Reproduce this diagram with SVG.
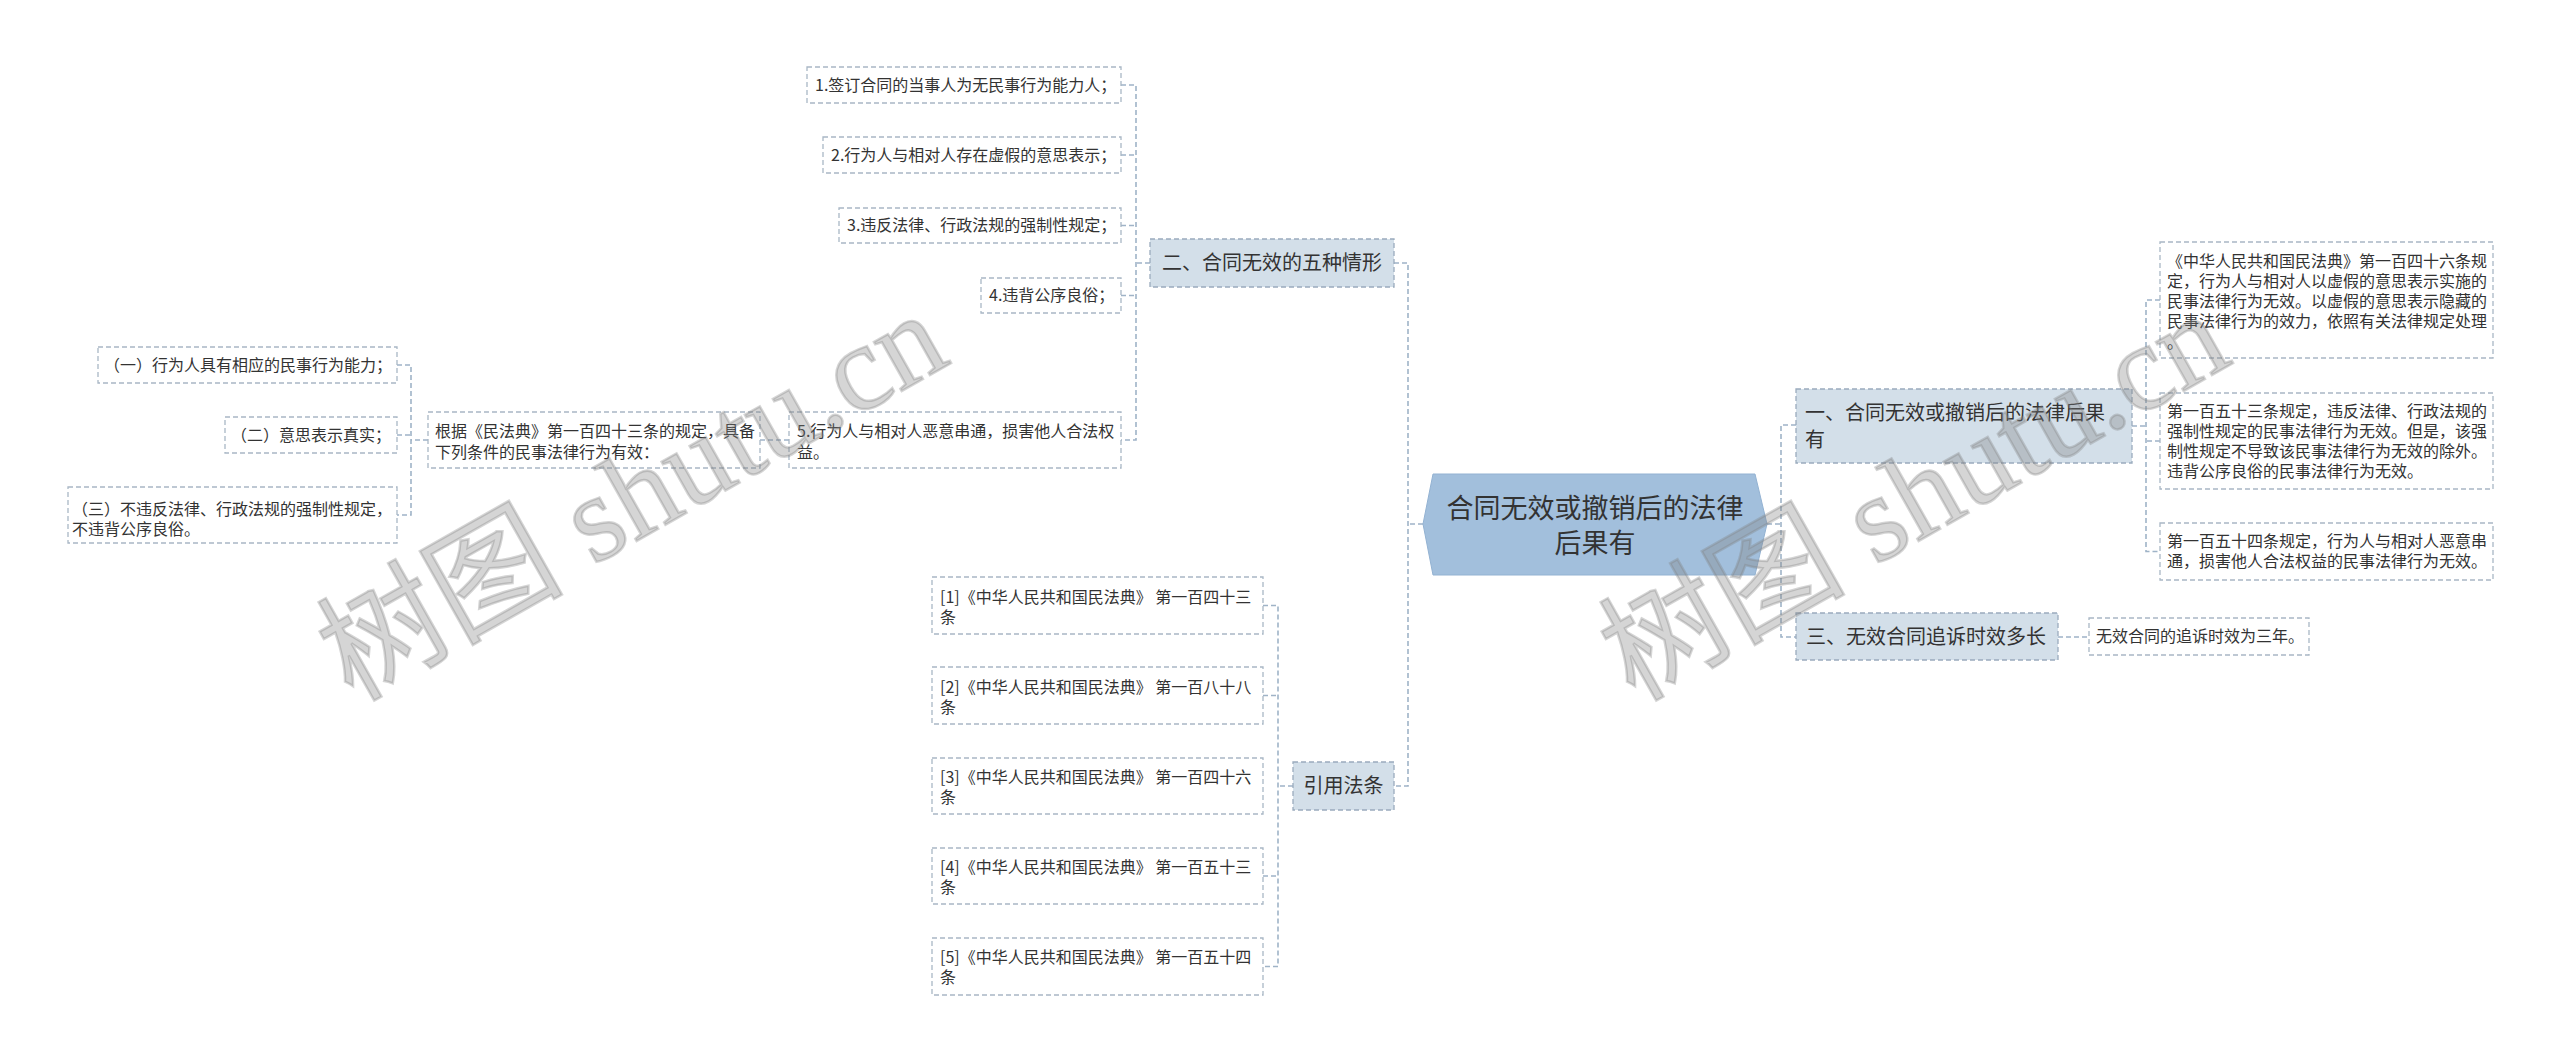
<svg xmlns="http://www.w3.org/2000/svg" width="2560" height="1063" viewBox="0 0 2560 1063">
<style>
text{font-family:"Noto Sans CJK SC","Noto Sans",sans-serif;fill:#333}
.s{font-size:16px}
.m{font-size:20px}
.leaf{fill:#fff;stroke:#a9b7c5;stroke-width:1.3;stroke-dasharray:5 3}
.l1{fill:#d3dfe9;stroke:#9aabbd;stroke-width:1.3;stroke-dasharray:5 3}
.conn path{fill:none;stroke:#9fb3c7;stroke-width:1.6;stroke-dasharray:5 3}
.wm{font-family:"Liberation Serif","Noto Sans CJK SC",serif;font-size:123px;fill:#808080;fill-opacity:0.33;stroke:#808080;stroke-opacity:0.33;stroke-width:2.5;paint-order:stroke}
</style>
<rect width="2560" height="1063" fill="#fff"/>
<g class="conn">
<path d="M1423,524H1408M1394,263H1408V786H1394"/>
<path d="M1767,524H1781M1796,425H1781V637H1796"/>
<path d="M1150,263H1136M1121,85H1136V440H1121M1121,155H1136M1121,225.5H1136M1121,295.5H1136"/>
<path d="M789,440H760"/>
<path d="M428,440H411M397,365H411V515H397M397,435H411"/>
<path d="M1293,786H1278M1263,605.5H1278V966.5H1263M1263,695.5H1278M1263,876H1278"/>
<path d="M2132,426H2146M2160,300H2146V551.5H2160M2160,441H2146"/>
<path d="M2058,637H2089"/>
</g>
<g id="root">
<polygon points="1423,524 1433,474 1755,474 1767,524 1755,575 1433,575" fill="#a2bfdc" stroke="#93b2d2" stroke-width="1"/>
<text x="1595" y="517.5" font-size="27" text-anchor="middle">合同无效或撤销后的法律</text>
<text x="1595" y="552.5" font-size="27" text-anchor="middle">后果有</text>
</g>
<g id="n2">
<rect class="l1" x="1150" y="239" width="244" height="48"/>
<text class="m" x="1272" y="270" text-anchor="middle">二、合同无效的五种情形</text>
</g>
<g id="n2-1">
<rect class="leaf" x="807" y="67" width="314" height="36"/>
<text class="s" x="815" y="91">1.签订合同的当事人为无民事行为能力人；</text>
</g>
<g id="n2-2">
<rect class="leaf" x="823" y="137" width="298" height="36"/>
<text class="s" x="831" y="161">2.行为人与相对人存在虚假的意思表示；</text>
</g>
<g id="n2-3">
<rect class="leaf" x="839" y="208" width="282" height="35"/>
<text class="s" x="847" y="231">3.违反法律、行政法规的强制性规定；</text>
</g>
<g id="n2-4">
<rect class="leaf" x="981" y="278" width="140" height="35"/>
<text class="s" x="989" y="301">4.违背公序良俗；</text>
</g>
<g id="n2-5">
<rect class="leaf" x="789" y="412" width="332" height="56"/>
<text class="s" x="797" y="437">5.行为人与相对人恶意串通，损害他人合法权</text>
<text class="s" x="797" y="458">益。</text>
</g>
<g id="n2-5-1">
<rect class="leaf" x="428" y="412" width="332" height="56"/>
<text class="s" x="435" y="437">根据《民法典》第一百四十三条的规定，具备</text>
<text class="s" x="435" y="458">下列条件的民事法律行为有效：</text>
</g>
<g id="n2-5-1-1">
<rect class="leaf" x="98" y="347" width="299" height="36"/>
<text class="s" x="104" y="371">（一）行为人具有相应的民事行为能力；</text>
</g>
<g id="n2-5-1-2">
<rect class="leaf" x="225" y="417" width="172" height="36"/>
<text class="s" x="231" y="441">（二）意思表示真实；</text>
</g>
<g id="n2-5-1-3">
<rect class="leaf" x="68" y="487" width="329" height="56"/>
<text class="s" x="72" y="515">（三）不违反法律、行政法规的强制性规定，</text>
<text class="s" x="72" y="535">不违背公序良俗。</text>
</g>
<g id="n4">
<rect class="l1" x="1293" y="762" width="101" height="48"/>
<text class="m" x="1343.5" y="793" text-anchor="middle">引用法条</text>
</g>
<g id="n4-1">
<rect class="leaf" x="932" y="577" width="331" height="57"/>
<text class="s" x="940" y="602.5">[1]《中华人民共和国民法典》 第一百四十三</text>
<text class="s" x="940" y="622.5">条</text>
</g>
<g id="n4-2">
<rect class="leaf" x="932" y="667" width="331" height="57"/>
<text class="s" x="940" y="692.5">[2]《中华人民共和国民法典》 第一百八十八</text>
<text class="s" x="940" y="712.5">条</text>
</g>
<g id="n4-3">
<rect class="leaf" x="932" y="758" width="331" height="56"/>
<text class="s" x="940" y="782.5">[3]《中华人民共和国民法典》 第一百四十六</text>
<text class="s" x="940" y="802.5">条</text>
</g>
<g id="n4-4">
<rect class="leaf" x="932" y="848" width="331" height="56"/>
<text class="s" x="940" y="872.5">[4]《中华人民共和国民法典》 第一百五十三</text>
<text class="s" x="940" y="892.5">条</text>
</g>
<g id="n4-5">
<rect class="leaf" x="932" y="938" width="331" height="57"/>
<text class="s" x="940" y="962.5">[5]《中华人民共和国民法典》 第一百五十四</text>
<text class="s" x="940" y="982.5">条</text>
</g>
<g id="n1">
<rect class="l1" x="1796" y="389" width="336" height="74"/>
<text class="m" x="1805" y="420">一、合同无效或撤销后的法律后果</text>
<text class="m" x="1805" y="447">有</text>
</g>
<g id="n1-1">
<rect class="leaf" x="2160" y="242" width="333" height="116"/>
<text class="s" x="2167" y="267">《中华人民共和国民法典》第一百四十六条规</text>
<text class="s" x="2167" y="287">定，行为人与相对人以虚假的意思表示实施的</text>
<text class="s" x="2167" y="307">民事法律行为无效。以虚假的意思表示隐藏的</text>
<text class="s" x="2167" y="327">民事法律行为的效力，依照有关法律规定处理</text>
<text class="s" x="2167" y="348">。</text>
</g>
<g id="n1-2">
<rect class="leaf" x="2160" y="393" width="333" height="96"/>
<text class="s" x="2167" y="417">第一百五十三条规定，违反法律、行政法规的</text>
<text class="s" x="2167" y="437">强制性规定的民事法律行为无效。但是，该强</text>
<text class="s" x="2167" y="457">制性规定不导致该民事法律行为无效的除外。</text>
<text class="s" x="2167" y="477">违背公序良俗的民事法律行为无效。</text>
</g>
<g id="n1-3">
<rect class="leaf" x="2160" y="523" width="333" height="57"/>
<text class="s" x="2167" y="547">第一百五十四条规定，行为人与相对人恶意串</text>
<text class="s" x="2167" y="567">通，损害他人合法权益的民事法律行为无效。</text>
</g>
<g id="n3">
<rect class="l1" x="1796" y="613" width="262" height="47"/>
<text class="m" x="1806" y="644">三、无效合同追诉时效多长</text>
</g>
<g id="n3-1">
<rect class="leaf" x="2089" y="618" width="220" height="37"/>
<text class="s" x="2096" y="642">无效合同的追诉时效为三年。</text>
</g>
<text class="wm" transform="translate(352,702) rotate(-29.5)">树图 shutu.cn</text>
<text class="wm" transform="translate(1634,702) rotate(-29.5)">树图 shutu.cn</text>
</svg>
